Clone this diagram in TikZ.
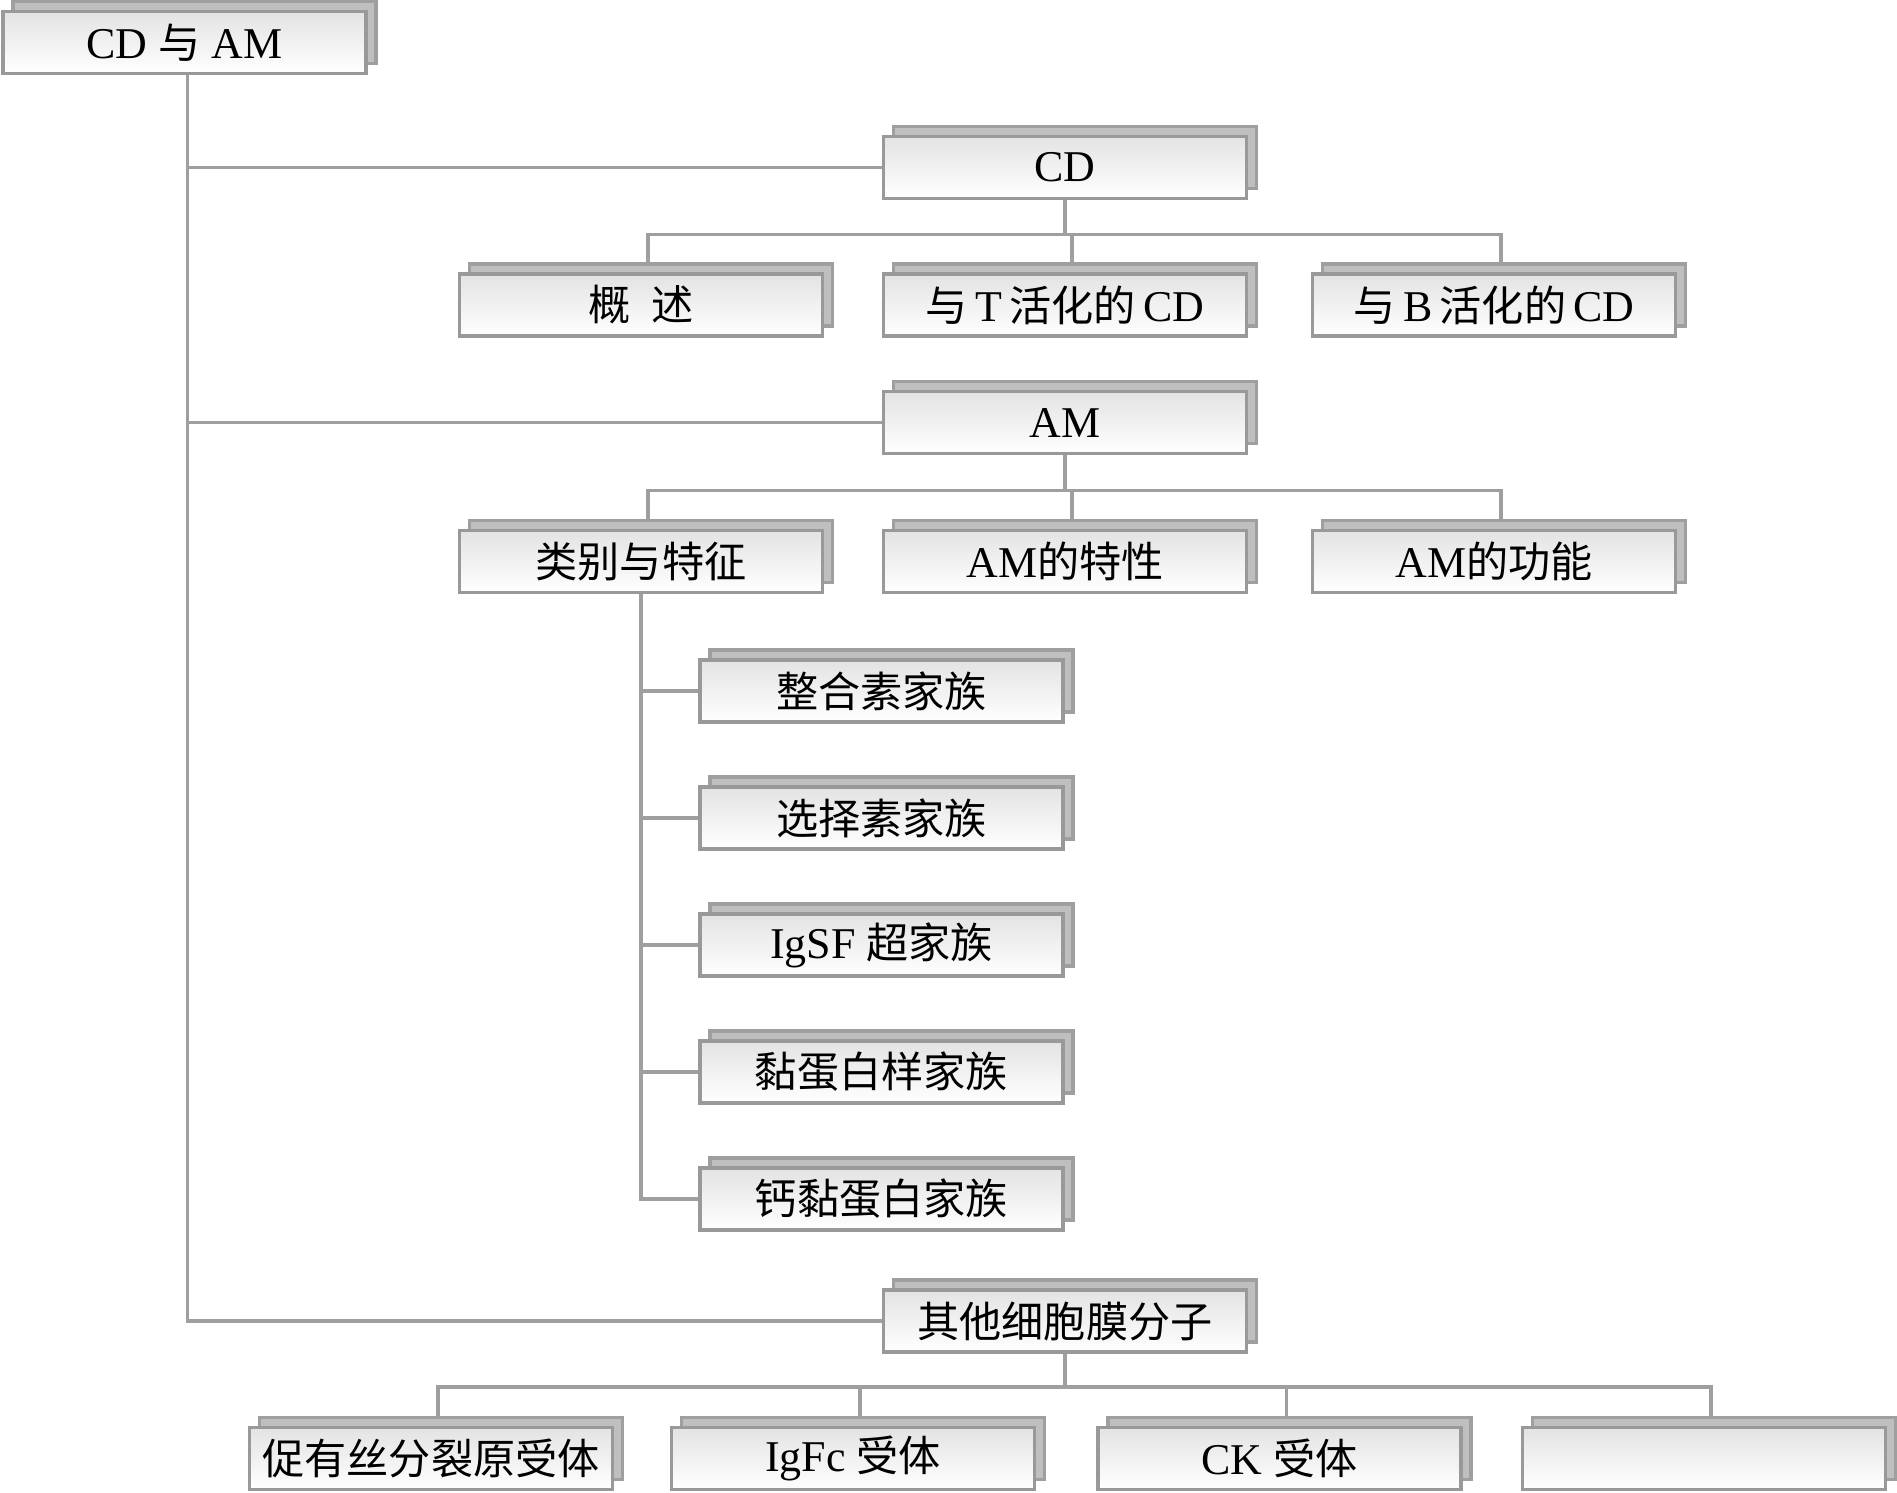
\documentclass[tikz,border=0pt]{standalone}
\usepackage{fontspec}
\setmainfont{Liberation Serif}
\newfontfamily\cjk[Scale=0.96]{Noto Sans CJK SC}
\usetikzlibrary{positioning, shadows, backgrounds}

\begin{document}
\begin{tikzpicture}[
    % Styles
    box/.style={rectangle, draw=gray!80, line width=0.9pt, top color=gray!22, bottom color=white, minimum width=3.63cm, minimum height=0.62cm, inner sep=1pt, outer sep=0pt, text centered, font=\fontsize{12.5}{14}\selectfont, copy shadow={shadow xshift=0.1cm, shadow yshift=0.1cm, top color=gray!50, bottom color=gray!50, draw=gray!75}},
    conn/.style={draw=gray!75, line width=0.9pt}
]
\useasboundingbox (0,0) rectangle (18.97,-14.92);

% --- Root ---
\node[box] (root) at (1.845,-0.425) {CD {\cjk 与} AM};

% --- CD branch ---
\node[box, below right = 0.63cm and 5.175cm of root] (cd) {CD};
\node[box, below = 0.755cm of cd] (tcd) {{\cjk 与}\,T\,{\cjk 活化的}\,CD};
\node[box, left = 0.61cm of tcd] (overview) {{\cjk 概\enspace 述}};
\node[box, right = 0.66cm of tcd] (bcd) {{\cjk 与}\,B\,{\cjk 活化的}\,CD};

% --- AM branch ---
\node[box, below = 0.555cm of tcd] (am) {AM};
\node[box, below = 0.77cm of am] (amprop) {AM{\cjk 的特性}};
\node[box, left = 0.61cm of amprop] (classes) {{\cjk 类别与特征}};
\node[box, right = 0.66cm of amprop] (amfunc) {AM{\cjk 的功能}};

% families under classes
\node[box, below = 0.675cm of classes, xshift=2.405cm] (integrin) {{\cjk 整合素家族}};
\node[box, below = 0.65cm of integrin] (selectin) {{\cjk 选择素家族}};
\node[box, below = 0.65cm of selectin] (igsf) {IgSF {\cjk 超家族}};
\node[box, below = 0.65cm of igsf] (mucin) {{\cjk 黏蛋白样家族}};
\node[box, below = 0.65cm of mucin] (cadherin) {{\cjk 钙黏蛋白家族}};

% --- Other membrane molecules ---
\node[box, below = 8.365cm of am] (other) {{\cjk 其他细胞膜分子}};
\node[box, below = 0.755cm of other, xshift=-2.12cm] (igfc) {IgFc {\cjk 受体}};
\node[box, left = 0.59cm of igfc] (mitogen) {{\cjk 促有丝分裂原受体}};
\node[box, right = 0.635cm of igfc] (ck) {CK {\cjk 受体}};
\node[box, right = 0.615cm of ck] (blank) {};

% --- Connectors (behind the boxes) ---
\begin{scope}[on background layer]
\draw[conn] ([xshift=0.03cm]root.south) |- (cd.west);
\draw[conn] ([xshift=0.03cm]root.south) |- (am.west);
\draw[conn] ([xshift=0.03cm]root.south) |- (other.west);

\draw[conn] (cd.south) -- ++(0,-0.36) -| ([xshift=2pt]overview.north);
\draw[conn] (cd.south) -- ++(0,-0.36) -| ([xshift=2pt]tcd.north);
\draw[conn] (cd.south) -- ++(0,-0.36) -| ([xshift=2pt]bcd.north);

\draw[conn] (am.south) -- ++(0,-0.37) -| ([xshift=2pt]classes.north);
\draw[conn] (am.south) -- ++(0,-0.37) -| ([xshift=2pt]amprop.north);
\draw[conn] (am.south) -- ++(0,-0.37) -| ([xshift=2pt]amfunc.north);

\draw[conn] (classes.south) |- (integrin.west);
\draw[conn] (classes.south) |- (selectin.west);
\draw[conn] (classes.south) |- (igsf.west);
\draw[conn] (classes.south) |- (mucin.west);
\draw[conn] (classes.south) |- (cadherin.west);

\draw[conn] (other.south) -- ++(0,-0.35) -| ([xshift=2pt]mitogen.north);
\draw[conn] (other.south) -- ++(0,-0.35) -| ([xshift=2pt]igfc.north);
\draw[conn] (other.south) -- ++(0,-0.35) -| ([xshift=2pt]ck.north);
\draw[conn] (other.south) -- ++(0,-0.35) -| ([xshift=2pt]blank.north);
\end{scope}

\end{tikzpicture}
\end{document}
